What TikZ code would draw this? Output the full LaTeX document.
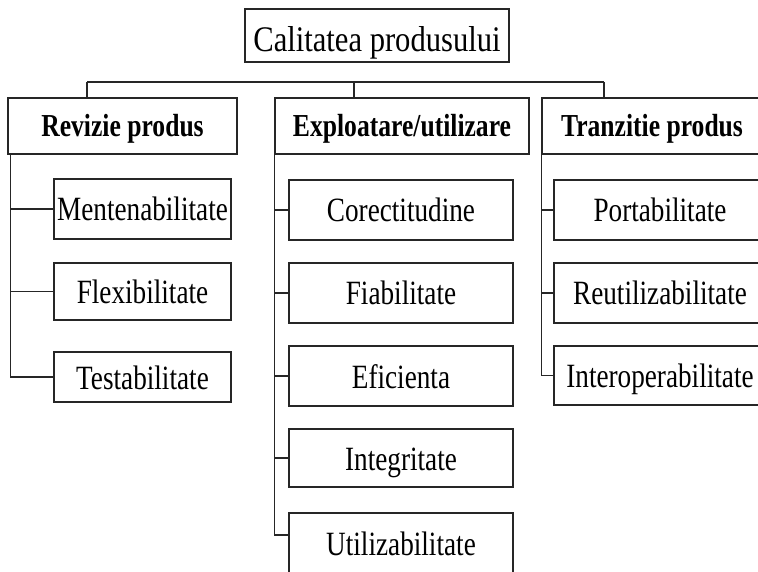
\documentclass[tikz,border=0pt]{standalone}
\usepackage{fontspec}
\setmainfont{Liberation Serif}[FakeStretch=0.8]
\newfontfamily\titlefont{Liberation Serif}[FakeStretch=0.85]
\definecolor{boxline}{gray}{0.15}

\tikzset{
  link/.style={draw=boxline, line width=1.1pt},
  titlebox/.style={draw=boxline, line width=1.1pt, inner sep=0pt,
    minimum width=264pt, minimum height=53pt,
    font=\titlefont\fontsize{36}{40}\selectfont, text height=34pt, text depth=1pt},
  groupbox/.style={draw=boxline, line width=1.1pt, inner sep=0pt,
    minimum height=56pt,
    font=\bfseries\fontsize{32}{38}\selectfont, text height=23pt, text depth=1pt},
  itembox/.style={draw=boxline, line width=1.1pt, inner sep=0pt,
    minimum height=58pt,
    font=\fontsize{34}{40}\selectfont, text height=25pt, text depth=1pt}
}

\begin{document}
\begin{tikzpicture}[x=1pt, y=-1pt]
		\clip (0,0) rectangle (758,572);

		% root
		\node[titlebox] (calitate) at (377, 35.5) {Calitatea produsului};

		% the three groups
		\node[groupbox, minimum width=229pt] (revizie) at (122.5, 126) {Revizie produs};
		\node[groupbox, minimum width=254pt] (exploatare) at (402, 126) {Exploatare/utilizare};
		\node[groupbox, minimum width=220pt] (tranzitie) at (652, 126) {Tranzitie produs};

		\coordinate (busL) at (87, 82);
		\coordinate (busM) at (354, 82);
		\coordinate (busR) at (604, 82);
		\draw[link] (busL) -- (busR);
		\draw[link] (busL) -- (busL |- revizie.north);
		\draw[link] (busM) -- (busM |- exploatare.north);
		\draw[link] (busR) -- (busR |- tranzitie.north);

		% Revizie produs
		\node[itembox, minimum width=177pt, minimum height=60pt] (menten) at (142.5, 209) {Mentenabilitate};
		\node[itembox, minimum width=177pt, minimum height=57pt] (flexib) at (142.5, 291.5) {Flexibilitate};
		\node[itembox, minimum width=177pt, minimum height=50pt] (testab) at (142.5, 377) {Testabilitate};
		\foreach \leaf in {menten, flexib, testab}
			\draw[link] ([xshift=2.6pt]revizie.south west) |- (\leaf.west);

		% Exploatare/utilizare
		\node[itembox, minimum width=224pt, minimum height=60pt] (corect) at (401, 210) {Corectitudine};
		\node[itembox, minimum width=224pt, minimum height=60pt] (fiabil) at (401, 293) {Fiabilitate};
		\node[itembox, minimum width=224pt, minimum height=60pt] (eficient) at (401, 376) {Eficienta};
		\node[itembox, minimum width=224pt, minimum height=58pt] (integr) at (401, 458) {Integritate};
		\node[itembox, minimum width=224pt, minimum height=60pt] (utiliz) at (401, 543) {Utilizabilitate};
		\foreach \leaf in {corect, fiabil, eficient, integr}
			\draw[link] (exploatare.south west) |- (\leaf.west);
		\draw[link] (exploatare.south west) |- ([yshift=8pt]utiliz.west);

		% Tranzitie produs
		\node[itembox, minimum width=212pt, minimum height=60pt] (portab) at (660, 210) {Portabilitate};
		\node[itembox, minimum width=212pt, minimum height=60pt] (reutil) at (660, 293) {Reutilizabilitate};
		\node[itembox, minimum width=212pt, minimum height=59pt] (interop) at (660, 375.5) {Interoperabilitate};
		\foreach \leaf in {portab, reutil, interop}
			\draw[link] (tranzitie.south west) |- (\leaf.west);
	\end{tikzpicture}
\end{document}
